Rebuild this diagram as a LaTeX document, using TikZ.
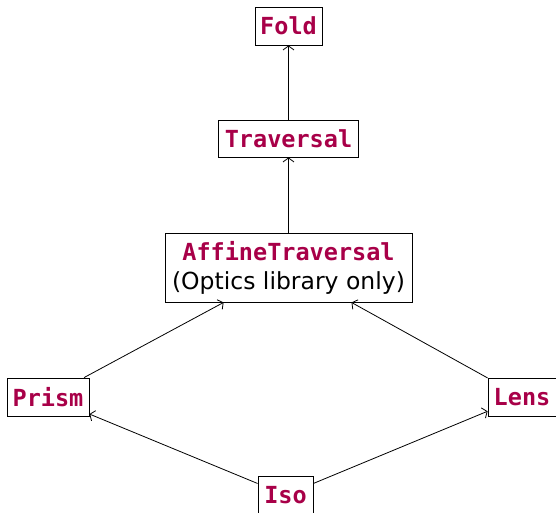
\documentclass[tikz,border=0pt]{standalone}
\usepackage{fontspec}
\setmainfont{DejaVu Sans}
\newfontfamily\opticmono{DejaVu Sans Mono}
\usetikzlibrary{arrows.meta}
\definecolor{opticred}{RGB}{168,0,72}
\newcommand{\optic}[1]{{\opticmono\bfseries\color{opticred}#1}}
\tikzset{
  optbox/.style={draw=black, line width=0.9pt, inner sep=0pt, align=center,
    font=\fontsize{23.5}{29}\selectfont},
  sub/.style={draw=black, line width=0.8pt,
    -{Straight Barb[length=4pt,width=11pt,line width=0.8pt]}}
}
\begin{document}
\begin{tikzpicture}[x=1pt,y=-1pt]
  \useasboundingbox (0,0) rectangle (556,513);
  \clip (0,0) rectangle (556,513);
  \node[optbox, minimum width=67pt, minimum height=38pt] (fold) at (288.5,26) {\optic{Fold}};
  \node[optbox, minimum width=140pt, minimum height=37pt] (trav) at (288.5,138.5) {\optic{Traversal}};
  \node[optbox, minimum width=247pt, minimum height=69pt] (aff) at (288.5,267.5)
    {\optic{AffineTraversal}\\(Optics library only)};
  \node[optbox, minimum width=82pt, minimum height=38pt] (prism) at (48,397) {\optic{Prism}};
  \node[optbox, minimum width=68pt, minimum height=38pt] (lens) at (522,397) {\optic{Lens}};
  \node[optbox, minimum width=55pt, minimum height=38pt] (iso) at (285.5,495) {\optic{Iso}};
  \draw[sub] (trav) -- (fold);
  \draw[sub] (aff) -- (trav);
  \draw[sub] (prism) -- (aff);
  \draw[sub] (lens) -- (aff);
  \draw[sub] (iso) -- (prism);
  \draw[sub] (iso) -- (lens);
\end{tikzpicture}
\end{document}
